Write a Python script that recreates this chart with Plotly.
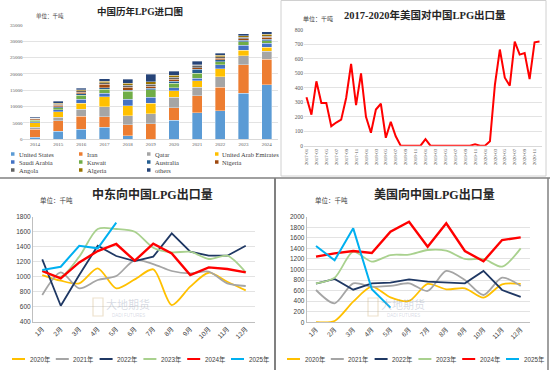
import plotly.graph_objects as go

W, H = 550, 370


def px(x):
    return x / W


def py(y):
    return 1 - y / H


# ---------------- data: top-left stacked bars (千吨) ----------------
years = ["2014", "2015", "2016", "2017", "2018", "2019", "2020", "2021", "2022", "2023", "2024"]
united_states = [700, 2450, 3100, 3700, 1100, 50, 5900, 8100, 8700, 14100, 16700]
iran = [2400, 3250, 4000, 3200, 3300, 4750, 3800, 5200, 7300, 8700, 7800]
qatar = [650, 1100, 2100, 3100, 2800, 3100, 3200, 2700, 3100, 2800, 2500]
uae = [1300, 1700, 1900, 3100, 3100, 3100, 2000, 1900, 2500, 1700, 1200]
saudi_arabia = [400, 500, 1100, 1000, 2000, 1900, 900, 800, 1200, 1500, 1200]
kuwait = [350, 600, 1300, 1300, 2400, 2200, 1300, 1500, 900, 1000, 800]
australia = [200, 400, 400, 400, 300, 500, 700, 1200, 600, 500, 500]
nigeria = [250, 400, 500, 1000, 900, 700, 600, 500, 500, 500, 500]
angola = [150, 400, 400, 500, 600, 600, 600, 700, 500, 500, 400]
algeria = [100, 300, 300, 500, 600, 800, 600, 300, 400, 400, 500]
others = [200, 600, 600, 800, 1300, 2200, 1300, 1000, 700, 600, 800]

bar_names = ["United States", "Iran", "Qatar", "United Arab Emirates", "Saudi Arabia", "Kuwait",
             "Australia", "Nigeria", "Angola", "Algeria", "others"]
bar_series = [united_states, iran, qatar, uae, saudi_arabia, kuwait, australia, nigeria, angola, algeria, others]
bar_colors = ["#5B9BD5", "#ED7D31", "#A5A5A5", "#FFC000", "#4472C4", "#70AD47",
              "#255E91", "#9E480E", "#636363", "#997300", "#264478"]

# ---------------- data: top-right monthly US->China 2017-2020 ----------------
months = [f"{y}-{m:02d}" for y in range(2017, 2021) for m in range(1, 13)]
us_exports = [335, 215, 445, 295, 295, 135, 160, 180, 330, 565, 280, 500,
              200, 90, 250, 290, 55, 165, 65, 0, 0, 0, 0, 0,
              45, 0, 0, 0, 0, 0, 0, 0, 0, 0, 10, 0,
              0, 30, 420, 665, 470, 415, 720, 630, 640, 460, 715, 720]

# ---------------- data: bottom panels ----------------
month_labels = ["1月", "2月", "3月", "4月", "5月", "6月", "7月", "8月", "9月", "10月", "11月", "12月"]
year_names = ["2020年", "2021年", "2022年", "2023年", "2024年", "2025年"]
year_colors = ["#FFC000", "#A5A5A5", "#1F3864", "#A9D18E", "#FF0000", "#00B0F0"]
year_widths = [1.8, 1.8, 1.8, 1.8, 2.4, 2.0]
year_shapes = ["spline", "spline", "linear", "spline", "linear", "linear"]

me_2020 = [1022, 947, 911, 1111, 844, 964, 1098, 622, 867, 1053, 933, 818]
me_2021 = [756, 1058, 844, 956, 1009, 1222, 1169, 1076, 1044, 1067, 911, 876]
me_2022 = [1231, 613, 1022, 1413, 1276, 1209, 1267, 1578, 1333, 1280, 1280, 1413]
me_2023 = [1076, 1000, 1267, 1636, 1636, 1600, 1387, 1324, 1333, 1236, 1280, 1058]
me_2024 = [1076, 978, 1191, 1342, 1436, 1213, 1440, 1311, 1022, 1124, 1102, 1058]
me_2025 = [1089, 1133, 1413, 1378, 1720]
middle_east = [me_2020, me_2021, me_2022, me_2023, me_2024, me_2025]

usa_2020 = [5, 25, 391, 675, 473, 404, 726, 625, 644, 467, 719, 726]
usa_2021 = [612, 360, 738, 675, 688, 738, 593, 972, 801, 517, 845, 688]
usa_2022 = [732, 820, 618, 738, 751, 814, 770, 757, 738, 972, 612, 480]
usa_2023 = [738, 845, 1338, 1148, 1274, 1281, 1369, 1356, 1199, 1199, 1054, 1401]
usa_2024 = [1243, 1306, 1350, 1312, 1716, 1905, 1432, 1874, 1350, 1155, 1558, 1609]
usa_2025 = [1445, 1174, 1779, 625, 278]
usa = [usa_2020, usa_2021, usa_2022, usa_2023, usa_2024, usa_2025]

fig = go.Figure()

# top-left bars
for name, vals, col in zip(bar_names, bar_series, bar_colors):
    fig.add_trace(go.Bar(x=years, y=vals, name=name,
                         marker=dict(color=col, line=dict(color="rgba(255,255,255,0.7)", width=0.5)),
                         xaxis="x", yaxis="y", showlegend=False))

# top-right line
fig.add_trace(go.Scatter(x=months, y=us_exports, mode="lines", line=dict(color="#FF0000", width=2),
                         xaxis="x2", yaxis="y2", showlegend=False))

# bottom lines
for name, vals, col, wd, sh in zip(year_names, middle_east, year_colors, year_widths, year_shapes):
    fig.add_trace(go.Scatter(x=month_labels[:len(vals)], y=vals, mode="lines", name=name,
                             line=dict(color=col, width=wd, shape=sh, smoothing=0.8),
                             xaxis="x3", yaxis="y3", showlegend=False))
for name, vals, col, wd, sh in zip(year_names, usa, year_colors, year_widths, year_shapes):
    fig.add_trace(go.Scatter(x=month_labels[:len(vals)], y=vals, mode="lines", name=name,
                             line=dict(color=col, width=wd, shape=sh, smoothing=0.8),
                             xaxis="x4", yaxis="y4", showlegend=False))

serif = "Liberation Serif, Noto Sans CJK SC"
sans = "Liberation Sans, Noto Sans CJK SC"
grid = "#E3E3E3"
tick_col = "#595959"

layout = dict(
    width=W, height=H, autosize=False,
    margin=dict(l=0, r=0, t=0, b=0, autoexpand=False),
    paper_bgcolor="white", plot_bgcolor="white",
    barmode="stack", bargap=0.56,
    showlegend=False,
    xaxis=dict(domain=[px(23.4), px(278.3)], anchor="y", type="category", automargin=False,
               tickfont=dict(size=5, family=serif, color=tick_col), showline=True, linecolor="#D9D9D9",
               ticks="", showgrid=False),
    yaxis=dict(domain=[py(139.3), py(25)], anchor="x", range=[0, 35000], dtick=5000, automargin=False,
               tickfont=dict(size=5, family=serif, color=tick_col), gridcolor=grid, zeroline=False,
               ticks="", tickformat="d"),
    xaxis2=dict(domain=[px(304), px(542)], anchor="y2", type="category", range=[-0.5, 47.5], automargin=False,
                tickmode="array", tickvals=months[::2], ticktext=months[::2], tickangle=-90,
                tickfont=dict(size=5, family=serif, color=tick_col), showgrid=False, ticks="",
                showline=True, linecolor="#D9D9D9"),
    yaxis2=dict(domain=[py(145.7), py(30)], anchor="x2", range=[0, 800], dtick=100, automargin=False,
                tickfont=dict(size=5.5, family=serif, color=tick_col), gridcolor=grid, zeroline=False, ticks=""),
    xaxis3=dict(domain=[px(33), px(255)], anchor="y3", type="category", range=[-0.5, 11.5], automargin=False,
                tickangle=-45, tickfont=dict(size=6.5, family=sans, color="#404040"), showgrid=False,
                ticks="", showline=True, linecolor="#BFBFBF"),
    yaxis3=dict(domain=[py(321.7), py(216.7)], anchor="x3", range=[400, 1800], dtick=200, automargin=False,
                tickfont=dict(size=6.5, family=sans, color="#404040"), gridcolor=grid, zeroline=False,
                ticks="", showline=True, linecolor="#BFBFBF"),
    xaxis4=dict(domain=[px(306.7), px(530)], anchor="y4", type="category", range=[-0.5, 11.5], automargin=False,
                tickangle=-45, tickfont=dict(size=6.5, family=sans, color="#404040"), showgrid=False,
                ticks="", showline=True, linecolor="#BFBFBF"),
    yaxis4=dict(domain=[py(322.3), py(216.7)], anchor="x4", range=[0, 2000], dtick=200, automargin=False,
                tickfont=dict(size=6.5, family=sans, color="#404040"), gridcolor=grid, zeroline=False,
                ticks="", showline=True, linecolor="#BFBFBF"),
)
fig.update_layout(**layout)

shapes = []
annotations = []


def text(x, y, s, size, family=sans, color="#262626", bold=False, xanchor="center"):
    annotations.append(dict(x=px(x), y=py(y), xref="paper", yref="paper", text=(f"<b>{s}</b>" if bold else s),
                            showarrow=False, xanchor=xanchor, yanchor="middle",
                            font=dict(size=size, family=family, color=color)))


# panel borders
shapes.append(dict(type="rect", xref="paper", yref="paper", x0=px(281), x1=px(546), y0=py(176), y1=py(0.5),
                   line=dict(color="#D0D0D0", width=1)))
shapes.append(dict(type="line", xref="paper", yref="paper", x0=0, x1=1, y0=py(178), y1=py(178),
                   line=dict(color="#808080", width=1.5)))
shapes.append(dict(type="line", xref="paper", yref="paper", x0=px(275), x1=px(275), y0=py(178), y1=0,
                   line=dict(color="#808080", width=2)))
shapes.append(dict(type="line", xref="paper", yref="paper", x0=px(548), x1=px(548), y0=py(178), y1=0,
                   line=dict(color="#808080", width=1.5)))

# titles
text(140, 11, "中国历年LPG进口图", 9.5, family=serif, bold=True)
text(50, 16, "单位：千吨", 5.5, family=serif, color="#404040")
text(425, 15, "2017-2020年美国对中国LPG出口量", 10.5, family=serif, bold=True)
text(318, 19, "单位：千吨", 6, family=serif, color="#404040")
text(152, 194, "中东向中国LPG出口量", 12, family=serif, bold=True)
text(56, 200, "单位：千吨", 6.5, color="#404040")
text(434, 194, "美国向中国LPG出口量", 12, family=serif, bold=True)
text(331, 200, "单位：千吨", 6.5, color="#404040")

# top-left legend (4 columns x 3 rows)
col_x = [11, 79, 147, 215]
row_y = [154, 162, 170]
for i, (name, col) in enumerate(zip(bar_names, bar_colors)):
    cx = col_x[i % 4]
    ry = row_y[i // 4]
    shapes.append(dict(type="rect", xref="paper", yref="paper", x0=px(cx), x1=px(cx + 3.5),
                       y0=py(ry + 1.75), y1=py(ry - 1.75), line=dict(width=0), fillcolor=col))
    text(cx + 5.5, ry, name, 6.5, family=serif, color="#404040", xanchor="left")

# bottom legends
for base in (0, 275):
    for i, (name, col) in enumerate(zip(year_names, year_colors)):
        lx = base + 12 + 43.8 * i
        shapes.append(dict(type="line", xref="paper", yref="paper", x0=px(lx), x1=px(lx + 13),
                           y0=py(359), y1=py(359), line=dict(color=col, width=2)))
        text(lx + 15.5, 359, name, 6.3, color="#404040", xanchor="left")

# watermarks
for wx in (0, 275):
    text(wx + 128, 304, "大地期货", 11, color="rgba(140,150,175,0.35)")
    text(wx + 128, 315, "DADI FUTURES", 4.5, color="rgba(140,150,175,0.35)")
    shapes.append(dict(type="rect", xref="paper", yref="paper", x0=px(wx + 93), x1=px(wx + 103),
                       y0=py(316), y1=py(298), line=dict(color="rgba(200,170,110,0.35)", width=1.2)))

fig.update_layout(shapes=shapes, annotations=annotations)
fig.write_html("out.html", config={"displayModeBar": False},
               post_script="document.body.style.margin='0';document.body.style.overflow='hidden';")
